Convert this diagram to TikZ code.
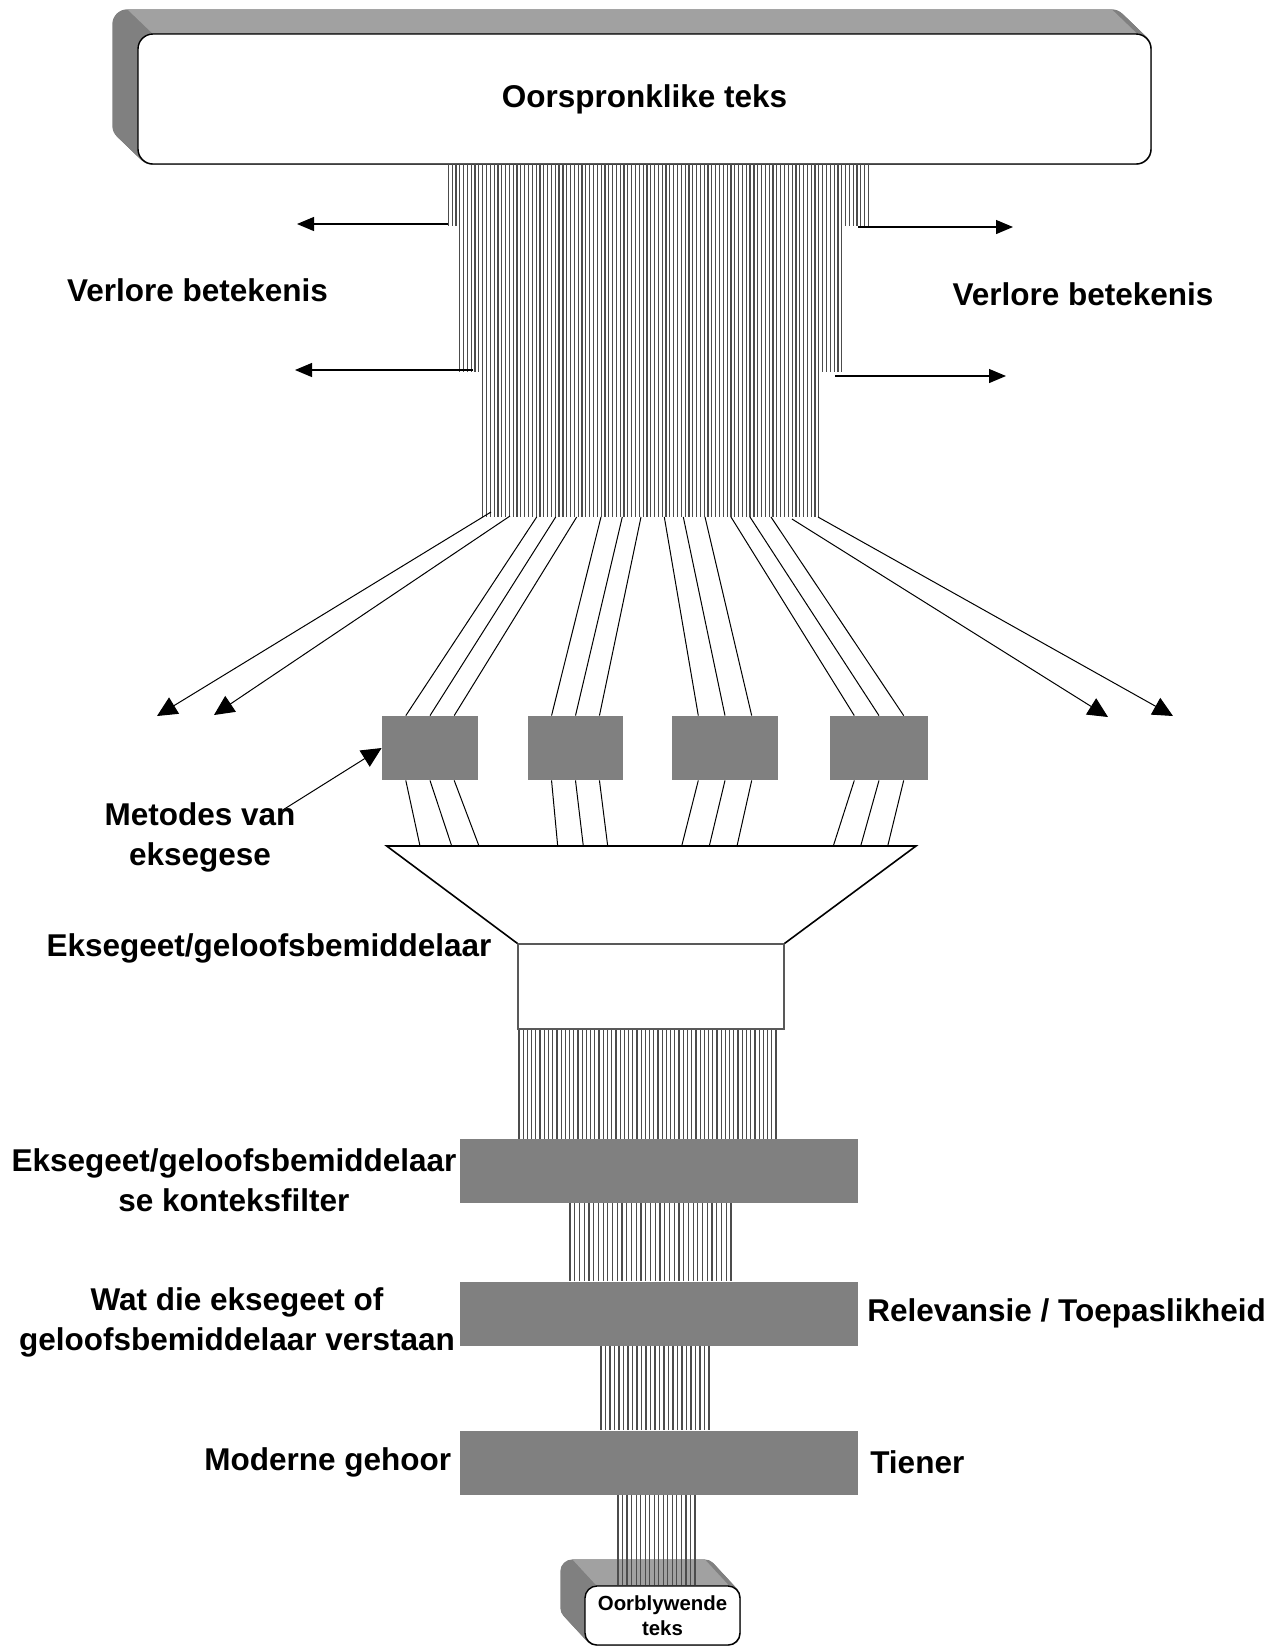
\documentclass[tikz,border=0pt]{standalone}
\usepackage{fontspec}
\setmainfont{Liberation Sans}
\usetikzlibrary{positioning,arrows.meta,calc,backgrounds}

\begin{document}
\begin{tikzpicture}[
        x=0.5pt, y=-0.5pt,
        lbl/.style={font=\fontsize{15.75pt}{20pt}\selectfont\bfseries, align=center, inner sep=2pt},
        small/.style={font=\fontsize{10.2pt}{12.5pt}\selectfont\bfseries, align=center},
        textbox/.style={draw, line width=0.7pt, fill=white, rounded corners=7.5pt, inner sep=0pt},
        method/.style={fill=black!50, minimum height=32pt, inner sep=0pt},
        filt/.style={fill=black!50, minimum width=199pt, minimum height=32pt, inner sep=0pt},
        wire/.style={black!70, line width=0.6pt},
        fan/.style={black, line width=0.5pt},
        lost/.style={-{Triangle[length=8.5pt, width=7pt]}, line width=0.6pt},
        spray/.style={-{Triangle[length=10pt, width=9.5pt]}, line width=0.5pt},
        topface/.style={fill=black!37},
        sideface/.style={fill=black!50}
    ]
    \useasboundingbox (0,0) rectangle (1281,1646);

    % original and remaining text
    \node[lbl, textbox, minimum width=506.5pt, minimum height=65pt] (src) at (644.5,99) {Oorspronklike teks};
    \node[small, textbox, minimum width=77.5pt, minimum height=29.5pt, rounded corners=6pt] (rem) at (662.5,1615.5) {Oorblywende\\teks};

    \begin{scope}[on background layer]
        \foreach \t in {0,...,25}
            \fill[sideface, rounded corners=7.5pt] ($(src.north west)+(-\t,-0.96*\t)$) rectangle ($(src.south east)+(-\t,-0.96*\t)$);
        \fill[topface] ($(src.north west)+(-10,-24)$) -- ($(src.north east)+(-40,-24)$) -- ($(src.north east)+(-15,0)$) -- ($(src.north west)+(15,0)$) -- cycle;
        \foreach \t in {0,...,24}
            \fill[sideface, rounded corners=6pt] ($(rem.north west)+(-\t,-1.08*\t)$) rectangle ($(rem.south east)+(-\t,-1.08*\t)$);
        \fill[topface] ($(rem.north west)+(-12,-26)$) -- ($(rem.north east)+(-36,-26)$) -- ($(rem.north east)+(-12,0)$) -- ($(rem.north west)+(12,0)$) -- cycle;
    \end{scope}

    % methods, mediator and filters
    \node[method, minimum width=48pt]   (m1) at (430,748) {};
    \node[method, minimum width=47.5pt] (m2) at (575.5,748) {};
    \node[method, minimum width=53pt]   (m3) at (725,748) {};
    \node[method, minimum width=49pt]   (m4) at (879,748) {};

    \node[draw=black!65, line width=0.6pt, fill=white, minimum width=133pt, minimum height=42.5pt, inner sep=0pt] (med) at (651,986.5) {};
    \coordinate (fnl) at (386.7,846);
    \coordinate (fnr) at (916,846);
    \draw[line width=0.8pt] (med.north west) -- (fnl) -- (fnr) -- (med.north east);

    \node[filt] (ctx) at (658.5,1171) {};
    \node[filt] (und) at (658.5,1313.5) {};
    \node[filt] (aud) at (658.5,1462.5) {};

    % the bundle of meaning
    \foreach \i in {0,...,110}
        \draw[wire] (448.3+3.82*\i,164) -- ++(0,62);
    \foreach \i in {3,...,103}
        \draw[wire] (448.3+3.82*\i,226) -- ++(0,146);
    \foreach \i in {9,...,97}
        \draw[wire] (448.3+3.82*\i,372) -- ++(0,145);

    \foreach \i in {0,...,61}
        \draw[wire] (519+4.213*\i,0 |- med.south) -- (519+4.213*\i,0 |- ctx.north);
    \foreach \i in {0,...,34}
        \draw[wire] (570+4.735*\i,0 |- ctx.south) -- (570+4.735*\i,0 |- und.north);
    \foreach \i in {0,...,24}
        \draw[wire] (601+4.5*\i,0 |- und.south) -- (601+4.5*\i,0 |- aud.north);
    \foreach \i in {0,...,17}
        \draw[wire] (618+4.53*\i,0 |- aud.south) -- (618+4.53*\i,0 |- rem.north);

    % lost meaning
    \coordinate (ll1) at (297,224);
    \coordinate (ll2) at (295,370);
    \coordinate (lr1) at (1013,227);
    \coordinate (lr2) at (1006,376);
    \draw[lost] (448.3,224) -- (ll1);
    \draw[lost] (473,370) -- (ll2);
    \draw[lost] (858,227) -- (lr1);
    \draw[lost] (835,376) -- (lr2);

    \coordinate (vl1) at (157,716);
    \coordinate (vl2) at (214,715);
    \coordinate (vr1) at (1108,717);
    \coordinate (vr2) at (1173,716);
    \draw[spray] (491,512) -- (vl1);
    \draw[spray] (510,516) -- (vl2);
    \draw[spray] (792,519) -- (vr1);
    \draw[spray] (818,517) -- (vr2);

    % through the methods to the funnel
    \foreach \b/\lst in {m1/{0.25/536.7/420,0.5/555.7/451.7,0.75/576.7/479},
                         m2/{0.25/601/557.7,0.5/622.3/583.3,0.75/641/607.7},
                         m3/{0.25/664.3/681.7,0.5/683.3/709.3,0.75/705/737},
                         m4/{0.25/731/833.3,0.5/750/860.7,0.75/771/887.7}}
        \foreach \f/\s/\e in \lst {
            \draw[fan] (\s,517) -- ($(\b.north west)!\f!(\b.north east)$);
            \draw[fan] ($(\b.south west)!\f!(\b.south east)$) -- (\e,0 |- fnl);
        };

    % labels
    \node[lbl] (vl) at (197.5,290) {Verlore betekenis};
    \node[lbl] (vr) at (1083,294) {Verlore betekenis};
    \node[lbl] (met) at (200,837) {Metodes van\\eksegese};
    \draw[spray] ([shift={(-10pt,-7pt)}]met.north east) -- (m1.west);
    \node[lbl, fill=white] (eks) at (269,948) {Eksegeet/geloofsbemiddelaar};
    \node[lbl] (ctxl) at (234,1180) {Eksegeet/geloofsbemiddelaar\\se konteksfilter};
    \node[lbl] (undl) at (237,1322) {Wat die eksegeet of\\geloofsbemiddelaar verstaan};
    \node[lbl, right=2.5pt of und] (rel) {Relevansie / Toepaslikheid};
    \node[lbl, left=1.75pt of aud] (mod) {Moderne gehoor};
    \node[lbl, right=4pt of aud] (tie) {Tiener};
\end{tikzpicture}
\end{document}
